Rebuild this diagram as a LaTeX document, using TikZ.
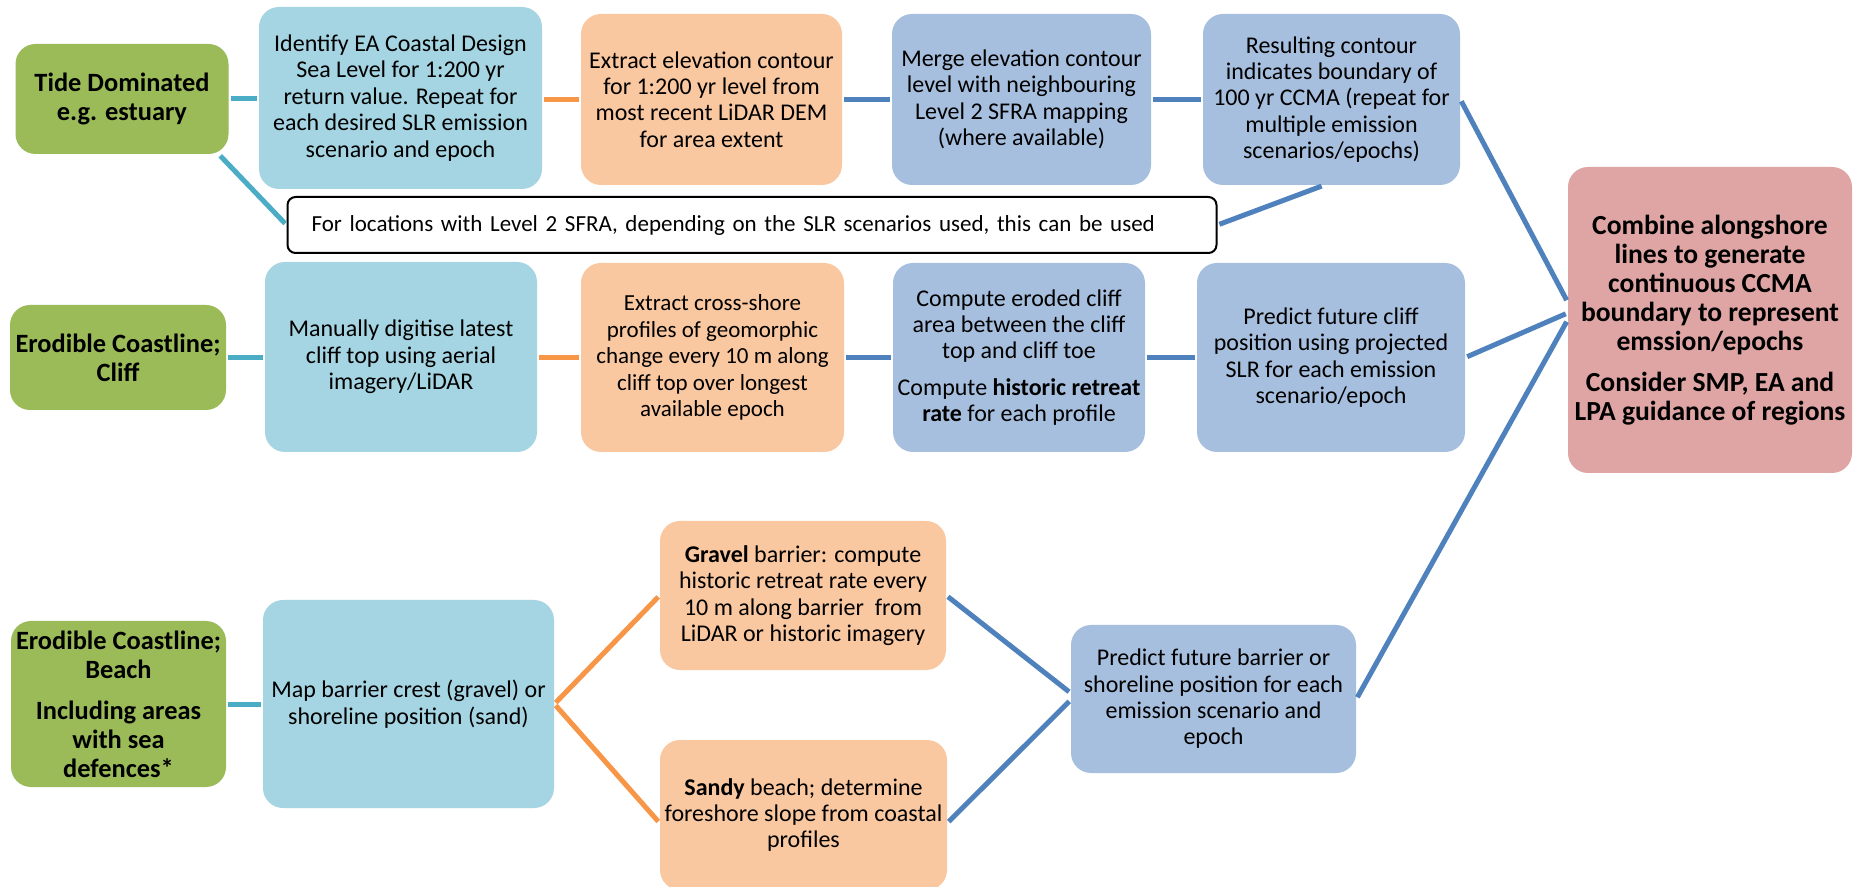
\documentclass[tikz,border=0pt]{standalone}
\usepackage{fontspec}
\setmainfont{Carlito}
\definecolor{gfill}{HTML}{9BBB59}
\definecolor{lbfill}{HTML}{A5D5E2}
\definecolor{pfill}{HTML}{FAC8A0}
\definecolor{bgfill}{HTML}{A7BFDE}
\definecolor{pkfill}{HTML}{DEA5A4}
\definecolor{tealline}{HTML}{4BACC6}
\definecolor{orline}{HTML}{F79646}
\definecolor{blline}{HTML}{4F81BD}
\tikzset{
  box/.style={rounded corners=10pt, align=center, inner sep=0pt, text=black,
    font=\fontsize{12}{13.2}\selectfont},
  gbox/.style={box, fill=gfill, font=\fontsize{13.2}{14.5}\selectfont\bfseries},
  lbbox/.style={box, fill=lbfill},
  pbox/.style={box, fill=pfill},
  bgbox/.style={box, fill=bgfill},
  pkbox/.style={box, fill=pkfill, font=\fontsize{13.8}{14.5}\selectfont\bfseries},
  wbox/.style={box, rounded corners=4pt, draw=black, line width=1pt, fill=white,
    font=\fontsize{11.5}{13.2}\selectfont, align=left, inner xsep=12pt},
  tl/.style={draw=tealline, line width=2.5pt, shorten <=1pt, shorten >=1pt},
  ol/.style={draw=orline, line width=2.5pt, shorten <=1pt, shorten >=1pt},
  bl/.style={draw=blline, line width=2.5pt, shorten <=1pt, shorten >=1pt},
}
\begin{document}
\begin{tikzpicture}[x=0.5pt, y=-0.5pt]
\clip (0,0) rectangle (1854,887);
\fill[white] (0,0) rectangle (1854,887);
% row 1
\node[gbox, minimum width=106.5pt, minimum height=55pt] (g1) at (122,99) {Tide Dominated\\e.g. estuary};
\node[lbbox, minimum width=141.5pt, minimum height=91pt] (b1) at (400.5,98) {Identify EA Coastal Design\\Sea Level for 1:200 yr\\return value. Repeat for\\each desired SLR emission\\scenario and epoch};
\node[pbox, minimum width=130.5pt, minimum height=85.5pt] (o1) at (711.5,99.5) {Extract elevation contour\\for 1:200 yr level from\\most recent LiDAR DEM\\for area extent};
\node[bgbox, minimum width=129.5pt, minimum height=85.5pt] (m1) at (1021.5,99.5) {Merge elevation contour\\level with neighbouring\\Level 2 SFRA mapping\\(where available)};
\node[bgbox, minimum width=128.5pt, minimum height=85.5pt] (r1) at (1331.5,99.5) {Resulting contour\\indicates boundary of\\100 yr CCMA (repeat for\\multiple emission\\scenarios/epochs)};
\node[wbox, text width=440.5pt, minimum height=28pt] (w1) at (752,225) {For locations with Level 2 SFRA, depending on the SLR scenarios used, this can be used};
% row 2
\node[gbox, minimum width=108pt, minimum height=52.5pt] (g2) at (118,357.5) {Erodible Coastline;\\Cliff};
\node[lbbox, minimum width=136pt, minimum height=95pt] (b2) at (401,357) {Manually digitise latest\\cliff top using aerial\\imagery/LiDAR};
\node[pbox, minimum width=131.5pt, minimum height=94.5pt, font=\fontsize{11.5}{13.2}\selectfont] (o2) at (712.5,357.5) {Extract cross-shore\\profiles of geomorphic\\change every 10 m along\\cliff top over longest\\available epoch};
\node[bgbox, minimum width=126pt, minimum height=94.5pt] (c2) at (1019,357.5) {Compute eroded cliff\\area between the cliff\\top and cliff toe\\[5pt]Compute \textbf{historic retreat}\\\textbf{rate} for each profile};
\node[bgbox, minimum width=134pt, minimum height=94.5pt] (p2) at (1331,357.5) {Predict future cliff\\position using projected\\SLR for each emission\\scenario/epoch};
% final
\node[pkbox, minimum width=142pt, minimum height=153pt] (pk) at (1710,320) {Combine alongshore\\lines to generate\\continuous CCMA\\boundary to represent\\emssion/epochs\\[6pt]Consider SMP, EA and\\LPA guidance of regions};
% row 3
\node[gbox, minimum width=107.5pt, minimum height=83pt] (g3) at (118.5,704) {Erodible Coastline;\\Beach\\[6pt]Including areas\\with sea\\defences*};
\node[lbbox, minimum width=145.5pt, minimum height=104pt] (b3) at (408.5,704) {Map barrier crest (gravel) or\\shoreline position (sand)};
\node[pbox, minimum width=143pt, minimum height=74.5pt] (gr) at (803,595.5) {\textbf{Gravel} barrier: compute\\historic retreat rate every\\10 m along barrier\ \ from\\LiDAR or historic imagery};
\node[pbox, minimum width=143.5pt, minimum height=75pt] (sd) at (803.5,815) {\textbf{Sandy} beach; determine\\foreshore slope from coastal\\profiles};
\node[bgbox, minimum width=142.5pt, minimum height=74pt] (pb) at (1213.5,699) {Predict future barrier or\\shoreline position for each\\emission scenario and\\epoch};
% connectors row 1
\draw[tl] (g1.east) -- (g1.east -| b1.west);
\draw[ol] (b1.east |- o1.west) -- (o1.west);
\draw[bl] (o1.east) -- (m1.west);
\draw[bl] (m1.east) -- (r1.west);
\draw[tl] ([xshift=-5pt]g1.south east) -- (w1.west);
\draw[bl] (w1.east) -- ([xshift=-4pt]r1.south);
\draw[bl] (r1.east) -- ([yshift=9pt]pk.west);
% row 2
\draw[tl] (g2.east) -- (g2.east -| b2.west);
\draw[ol] (b2.east |- o2.west) -- (o2.west);
\draw[bl] (o2.east) -- (c2.west);
\draw[bl] (c2.east) -- (p2.west);
\draw[bl] (p2.east) -- ([yshift=3.5pt]pk.west);
% row 3
\draw[tl] (g3.east) -- (b3.west);
\draw[ol] (b3.east) -- (gr.west);
\draw[ol] (b3.east) -- ([yshift=-4pt]sd.west);
\draw[bl] (gr.east) -- ([yshift=3pt]pb.west);
\draw[bl] ([yshift=-4pt]sd.east) -- ([yshift=-0.5pt]pb.west);
\draw[bl] (pb.east) -- (pk.west);
\end{tikzpicture}
\end{document}
